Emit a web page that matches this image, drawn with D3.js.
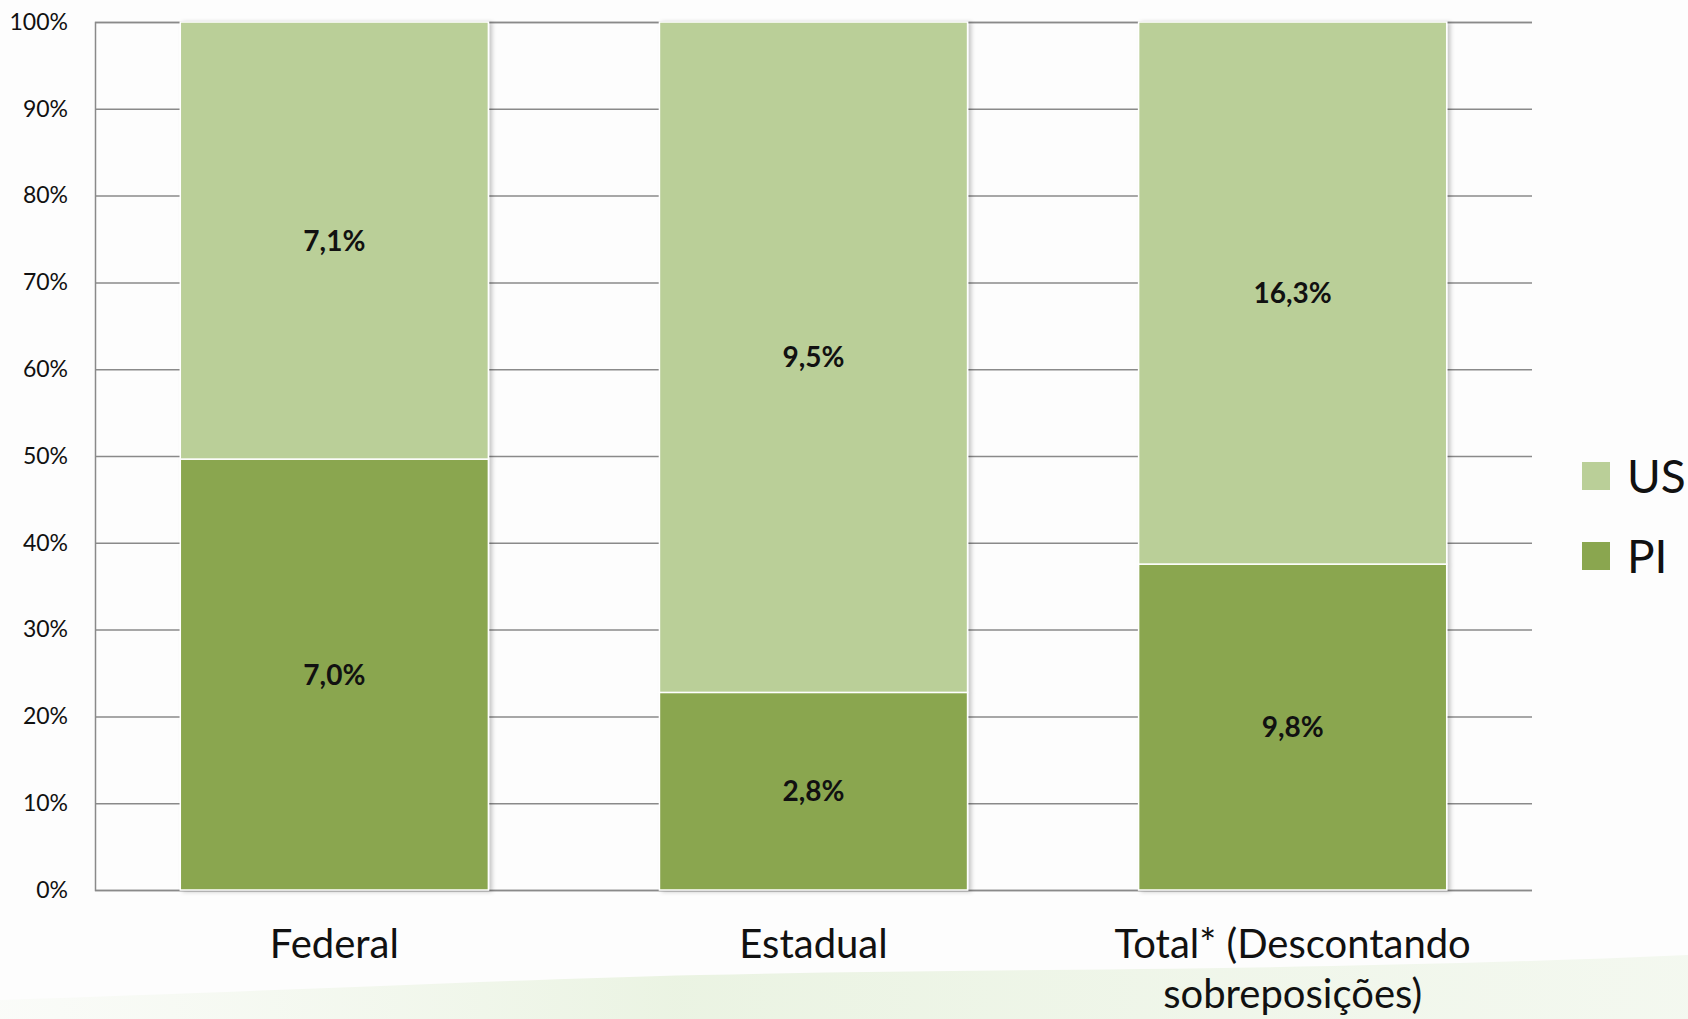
<!DOCTYPE html>
<html>
<head>
<meta charset="utf-8">
<script src="https://cdn.jsdelivr.net/npm/d3@7"></script>
<style>
  html, body { margin: 0; padding: 0; background: #fdfdfd; }
  svg { display: block; font-family: Lato, "Open Sans", sans-serif; }
</style>
</head>
<body>
<div id="chart"></div>
<script>
// chart data (shares per sphere, in %)
const categories = ["Federal", "Estadual", "Total* (Descontando sobreposições)"];
const seriesKeys = ["PI", "US"];
const piValues = [7.0, 2.8, 9.8];
const usValues = [7.1, 9.5, 16.3];
const yTicks = [0, 0.1, 0.2, 0.3, 0.4, 0.5, 0.6, 0.7, 0.8, 0.9, 1];
const colors = { PI: "#8aa64f", US: "#bacf98" };

const width = 1688;
const height = 1019;
const margin = { top: 22, right: 156, bottom: 129, left: 95 };

// build rows for the stack
const rows = categories.map((c, i) => ({ category: c, PI: piValues[i], US: usValues[i] }));

const svg = d3.select("#chart")
  .append("svg")
  .attr("width", width)
  .attr("height", height);

// faint green swoosh at the bottom of the slide
const defs = svg.append("defs");
const grad = defs.append("linearGradient").attr("id", "swoosh").attr("x1", 0).attr("x2", 1);
grad.append("stop").attr("offset", "0%").attr("stop-color", "#eef5e6").attr("stop-opacity", 0.2);
grad.append("stop").attr("offset", "40%").attr("stop-color", "#e6f1dc").attr("stop-opacity", 0.8);
grad.append("stop").attr("offset", "100%").attr("stop-color", "#eaf3e2").attr("stop-opacity", 0.5);
svg.append("path")
  .attr("d", "M0,1019 L0,1000 C300,990 500,980 700,975 C1000,968 1300,972 1688,955 L1688,1019 Z")
  .attr("fill", "url(#swoosh)");

const shadow = defs.append("filter").attr("id", "barShadow")
  .attr("x", "-5%").attr("y", "-5%").attr("width", "115%").attr("height", "110%");
shadow.append("feDropShadow")
  .attr("dx", 3).attr("dy", 1).attr("stdDeviation", 2)
  .attr("flood-color", "#000").attr("flood-opacity", 0.22);

const x = d3.scaleBand()
  .domain(categories)
  .range([margin.left, width - margin.right])
  .paddingInner(0.357)
  .paddingOuter(0.178);

const y = d3.scaleLinear()
  .domain([0, 1])
  .range([height - margin.bottom, margin.top]);

const stack = d3.stack().keys(seriesKeys).offset(d3.stackOffsetExpand);
const series = stack(rows);

// gridlines + y axis labels
const yAxis = d3.axisLeft(y)
  .tickValues(yTicks)
  .tickFormat(d3.format(".0%"))
  .tickSize(-(width - margin.left - margin.right))
  .tickPadding(27);

svg.append("g")
  .attr("transform", `translate(${margin.left},0)`)
  .call(yAxis)
  .call((g) => g.select(".domain").attr("stroke", "#8a8a8a").attr("stroke-width", 1.5))
  .call((g) => g.selectAll(".tick line").attr("stroke", "#8a8a8a").attr("stroke-width", 1.5))
  .call((g) => g.selectAll(".tick text")
    .attr("fill", "#111")
    .style("font-size", "23px")
    .style("font-family", "Lato, sans-serif"));

// stacked bars
const layers = svg.append("g")
  .attr("filter", "url(#barShadow)")
  .selectAll("g")
  .data(series)
  .enter()
  .append("g")
  .attr("fill", (s) => colors[s.key]);

layers.selectAll("rect")
  .data((s) => s)
  .enter()
  .append("rect")
  .attr("x", (d) => x(d.data.category))
  .attr("y", (d) => y(d[1]))
  .attr("width", x.bandwidth())
  .attr("height", (d) => y(d[0]) - y(d[1]))
  .attr("stroke", "#fff")
  .attr("stroke-width", 1.5);

// value labels inside segments
series.forEach((s) => {
  svg.append("g")
    .selectAll("text")
    .data(s)
    .enter()
    .append("text")
    .attr("x", (d) => x(d.data.category) + x.bandwidth() / 2)
    .attr("y", (d) => (y(d[0]) + y(d[1])) / 2)
    .attr("dy", "0.36em")
    .attr("text-anchor", "middle")
    .attr("font-weight", "bold")
    .attr("font-size", 28)
    .attr("fill", "#111")
    .text((d) => d3.format(".1f")(d.data[s.key]).replace(".", ",") + "%");
});

// category labels, wrapped to the band
function wrap(text, maxWidth) {
  text.each(function () {
    const t = d3.select(this);
    const words = t.text().split(/\s+/);
    const xPos = t.attr("x");
    t.text(null);
    let line = [];
    let tspan = t.append("tspan").attr("x", xPos).attr("dy", 0);
    words.forEach((w) => {
      line.push(w);
      tspan.text(line.join(" "));
      if (tspan.node().getComputedTextLength() > maxWidth && line.length > 1) {
        line.pop();
        tspan.text(line.join(" "));
        line = [w];
        tspan = t.append("tspan").attr("x", xPos).attr("dy", "1.25em").text(w);
      }
    });
  });
}

svg.append("g")
  .selectAll("text")
  .data(categories)
  .enter()
  .append("text")
  .attr("x", (d) => x(d) + x.bandwidth() / 2)
  .attr("y", 958)
  .attr("text-anchor", "middle")
  .attr("font-size", 40)
  .attr("fill", "#111")
  .text((d) => d)
  .call(wrap, x.step() - 20);

// legend (US on top, PI below)
const legendKeys = seriesKeys.slice().reverse();
const legend = svg.append("g")
  .selectAll("g")
  .data(legendKeys)
  .enter()
  .append("g")
  .attr("transform", (d, i) => `translate(1582,${462 + i * 80})`);

legend.append("rect")
  .attr("width", 28)
  .attr("height", 28)
  .attr("fill", (d) => colors[d]);

legend.append("text")
  .attr("x", 45)
  .attr("y", 14)
  .attr("dy", "0.36em")
  .attr("font-size", 46)
  .attr("fill", "#111")
  .text((d) => d);
</script>
</body>
</html>
